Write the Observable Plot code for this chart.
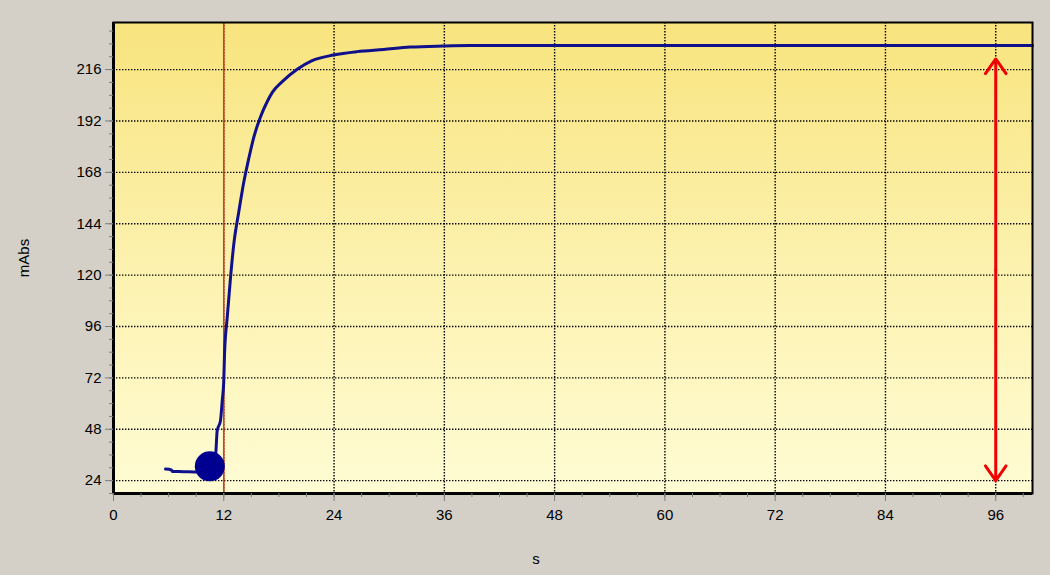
<!DOCTYPE html>
<html>
<head>
<meta charset="utf-8">
<script src="https://cdn.jsdelivr.net/npm/d3@7"></script>
<script src="https://cdn.jsdelivr.net/npm/@observablehq/plot@0.6"></script>
<style>
  html, body { margin: 0; padding: 0; background: #d4d0c8; }
  #chart { width: 1050px; height: 575px; }
</style>
</head>
<body>
<div id="chart"></div>
<script>
// Absorbance trace (time in s, absorbance in mAbs)
const times  = [5.66, 6.3, 6.4, 7.65, 9.1, 10.4, 10.9, 11.15, 11.28, 11.64, 11.83, 12.0, 12.08, 12.37, 12.73, 13.09, 13.63, 14.18, 14.72, 15.27, 16.0, 16.72, 17.3, 18.36, 19.99, 21.5, 23.94, 26.5, 29.38, 32.3, 35.9, 38.8, 50, 60, 70, 80, 90, 100];
const absorb = [29.4, 29.0, 28.3, 28.2, 28.0, 28.2, 31.0, 38.0, 47.3, 52.0, 61.3, 70.6, 83.0, 100.0, 118.7, 134.5, 149.5, 163.5, 174.5, 184.5, 194.0, 201.0, 205.5, 210.4, 216.2, 220.0, 222.8, 224.4, 225.4, 226.5, 227.0, 227.2, 227.2, 227.2, 227.2, 227.2, 227.2, 227.2];

// Injection marker
const markerTime = [12];
// Highlighted point
const dotTime = [10.48];
const dotAbs = [30.7];
// Span arrow
const spanTime = [96];
const spanLow = [24];
const spanHigh = [221];

// Ticks
const xTicks = [0, 12, 24, 36, 48, 60, 72, 84, 96];
const yTicks = [24, 48, 72, 96, 120, 144, 168, 192, 216];
const xMinor = d3.range(0, 101, 3);
const yMinor = d3.range(18, 239, 6);

const series = times.map((t, i) => ({t, a: absorb[i]}));
const dots = dotTime.map((t, i) => ({t, a: dotAbs[i]}));
const spans = spanTime.map((t, i) => ({t, lo: spanLow[i], hi: spanHigh[i], mid: (spanLow[i] + spanHigh[i]) / 2}));

const tickColor = "#7c7c7c";
const gridStyle = {stroke: "#000", strokeOpacity: 1, strokeWidth: 1.4, strokeDasharray: "1.4,1.6"};

const chart = Plot.plot({
  width: 1050,
  height: 575,
  marginLeft: 113,
  marginRight: 18,
  marginTop: 22,
  marginBottom: 82,
  style: {background: "#d4d0c8", fontFamily: "'Liberation Sans', Arial, sans-serif", fontSize: "15px", color: "black"},
  x: {domain: [0, 100]},
  y: {domain: [18, 238]},
  marks: [
    Plot.frame({fill: "url(#plotbg)", stroke: "none"}),
    Plot.gridX(xTicks, gridStyle),
    Plot.gridY(yTicks, gridStyle),
    Plot.ruleX(markerTime, {stroke: "#d2421e", strokeWidth: 1.6}),
    Plot.line(series, {x: "t", y: "a", stroke: "#10108c", strokeWidth: 3, strokeLinejoin: "round", curve: "monotone-x"}),
    Plot.dot(dots, {x: "t", y: "a", r: 15, fill: "#000090", stroke: "none"}),
    Plot.arrow(spans, {x1: "t", x2: "t", y1: "mid", y2: "hi", stroke: "#f00000", strokeWidth: 3, headLength: 9, headAngle: 70, insetStart: 0, insetEnd: 0}),
    Plot.arrow(spans, {x1: "t", x2: "t", y1: "mid", y2: "lo", stroke: "#f00000", strokeWidth: 3, headLength: 9, headAngle: 70, insetStart: 0, insetEnd: 0}),
    Plot.frame({stroke: "black", strokeWidth: 2, fill: "none"}),
    Plot.ruleX([0], {stroke: "black", strokeWidth: 3}),
    Plot.ruleY([18], {stroke: "black", strokeWidth: 3}),
    Plot.axisX(xMinor, {tickSize: 4, tickFormat: () => "", stroke: tickColor, label: null}),
    Plot.axisY(yMinor, {tickSize: 4, tickFormat: () => "", stroke: tickColor, label: null}),
    Plot.axisX(xTicks, {tickSize: 8, tickPadding: 8, stroke: tickColor, fill: "black", fontSize: 15, label: null}),
    Plot.axisY(yTicks, {tickSize: 8, tickPadding: 4, stroke: tickColor, fill: "black", fontSize: 15, label: "mAbs", labelAnchor: "center", labelOffset: 95, labelArrow: "none"}),
    Plot.text(["s"], {frameAnchor: "bottom", dx: -37, dy: 70, fontSize: 15, fill: "black"})
  ]
});

// gradient for the plotting area
const svg = d3.select(chart.tagName.toLowerCase() === "svg" ? chart : chart.querySelector("svg"));
const defs = svg.insert("defs", ":first-child");
const grad = defs.append("linearGradient").attr("id", "plotbg").attr("x1", 0).attr("y1", 0).attr("x2", 0).attr("y2", 1);
grad.append("stop").attr("offset", "0%").attr("stop-color", "#f8e47e");
grad.append("stop").attr("offset", "50%").attr("stop-color", "#fcf1ad");
grad.append("stop").attr("offset", "100%").attr("stop-color", "#fffcd4");

document.getElementById("chart").appendChild(chart);
</script>
</body>
</html>
